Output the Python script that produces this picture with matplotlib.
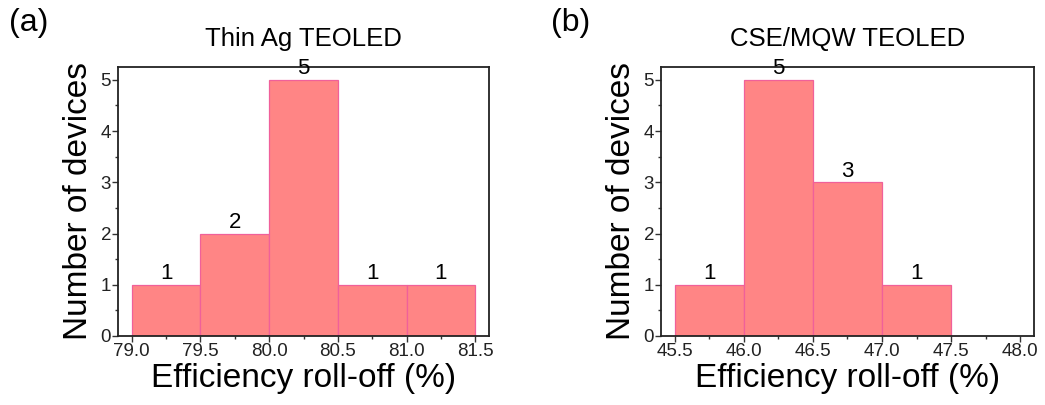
import matplotlib.pyplot as plt
from matplotlib.ticker import MultipleLocator

plt.rcParams['font.family'] = ['Liberation Sans', 'DejaVu Sans']

# Histogram bins (left edges) and counts for each device type
ag_edges = [79.0, 79.5, 80.0, 80.5, 81.0]
ag_counts = [1, 2, 5, 1, 1]
mqw_edges = [45.5, 46.0, 46.5, 47.0]
mqw_counts = [1, 5, 3, 1]
bin_width = 0.5

ag_ticks = [79.0, 79.5, 80.0, 80.5, 81.0, 81.5]
mqw_ticks = [45.5, 46.0, 46.5, 47.0, 47.5, 48.0]

fig = plt.figure(figsize=(10.45, 4.05), dpi=100)
ax1 = fig.add_axes([118 / 1045, 1 - 336 / 405, 371 / 1045, 269 / 405])
ax2 = fig.add_axes([661 / 1045, 1 - 336 / 405, 373 / 1045, 269 / 405])


def draw_hist(ax, edges, counts, ticks, xlim, title, tag):
    ax.bar(edges, counts, width=bin_width, align='edge',
           color='#ff8585', edgecolor='#f0609a', linewidth=0.9)
    for x, c in zip(edges, counts):
        ax.text(x + bin_width / 2, c + 0.01, str(c), ha='center', va='bottom', fontsize=16,
                clip_on=False)
    ax.set_xlim(*xlim)
    ax.set_ylim(0, 5.25)
    ax.set_xticks(ticks)
    ax.set_xticklabels([f'{t:.1f}' for t in ticks])
    ax.xaxis.set_minor_locator(MultipleLocator(0.25))
    ax.set_yticks([0, 1, 2, 3, 4, 5])
    ax.yaxis.set_minor_locator(MultipleLocator(0.5))
    ax.tick_params(which='major', direction='out', length=4, width=1, labelsize=13.5,
                   colors='#333333', labelcolor='#222222', pad=1)
    ax.tick_params(which='minor', direction='out', length=2.5, width=1, colors='#333333')
    for s in ax.spines.values():
        s.set_linewidth(1.3)
        s.set_color('#222222')
    ax.set_xlabel('Efficiency roll-off (%)', fontsize=24, labelpad=2)
    ax.set_ylabel('Number of devices', fontsize=24, labelpad=5)
    ax.set_title(title, fontsize=18.5, pad=15)
    ax.text(-0.295, 1.165, tag, transform=ax.transAxes, fontsize=23, ha='left', va='center')


draw_hist(ax1, ag_edges, ag_counts, ag_ticks, (78.9, 81.6), 'Thin Ag TEOLED', '(a)')
draw_hist(ax2, mqw_edges, mqw_counts, mqw_ticks, (45.4, 48.1), 'CSE/MQW TEOLED', '(b)')

fig.savefig('out.png', dpi=100)
